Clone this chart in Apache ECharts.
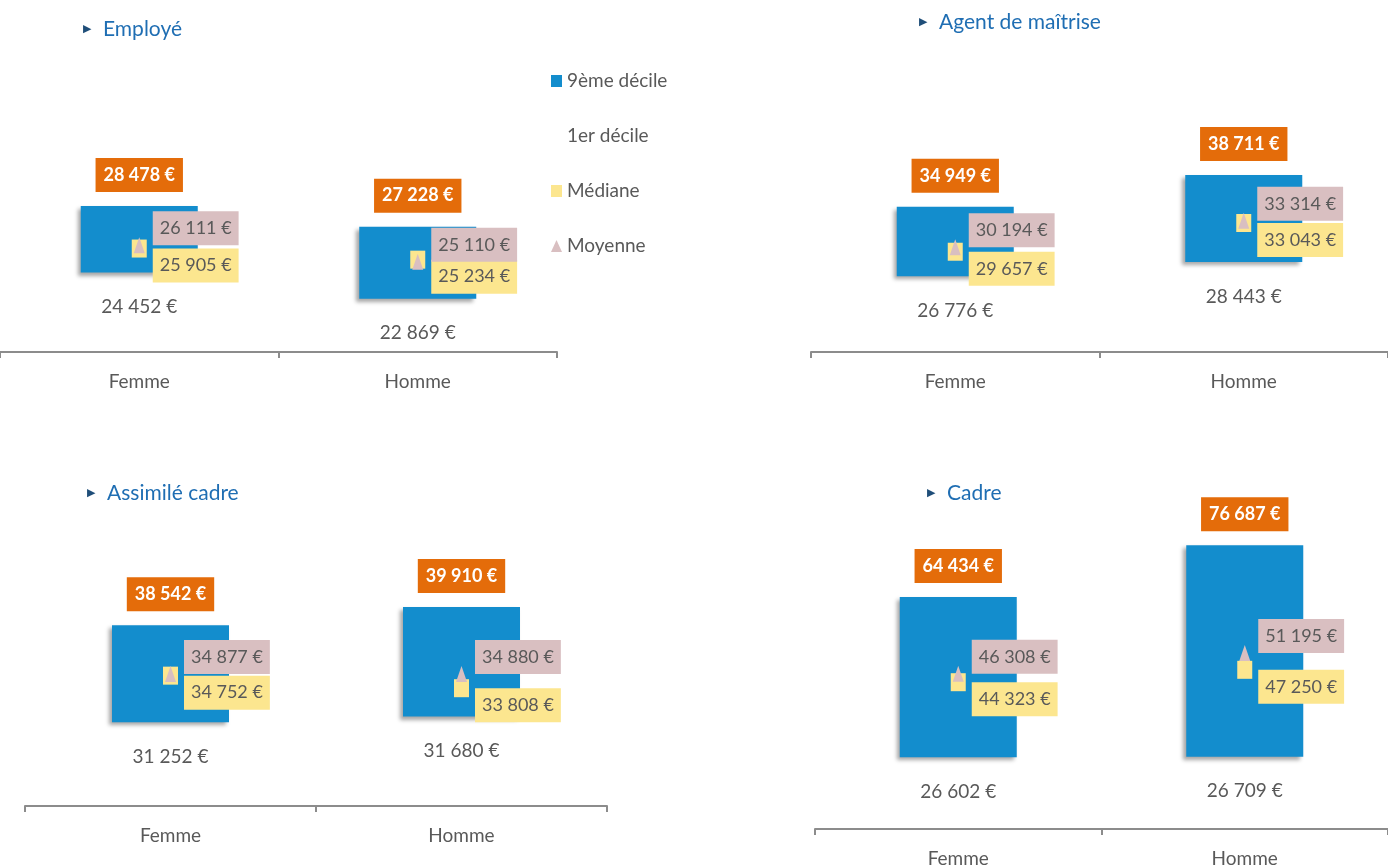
<!DOCTYPE html>
<html>
<head>
<meta charset="utf-8">
<script src="https://cdn.jsdelivr.net/npm/echarts@6/dist/echarts.min.js"></script>
<style>
html,body{margin:0;padding:0;background:#fff;}
#chart{width:1388px;height:868px;}
</style>
</head>
<body>
<div id="chart"></div>
<script>
// ---- data ----
const categories = ['Femme', 'Homme'];
const panelTitles = ['Employé', 'Agent de maîtrise', 'Assimilé cadre', 'Cadre'];
const decile9 = [[28478, 27228], [34949, 38711], [38542, 39910], [64434, 76687]];
const decile1 = [[24452, 22869], [26776, 28443], [31252, 31680], [26602, 26709]];
const mediane = [[25905, 25234], [29657, 33043], [34752, 33808], [44323, 47250]];
const moyenne = [[26111, 25110], [30194, 33314], [34877, 34880], [46308, 51195]];
const legendNames = ['9ème décile', '1er décile', 'Médiane', 'Moyenne'];

// ---- layout / style ----
const FONT = 'Lato, "Open Sans", sans-serif';
const GREY = '#595959';
const BLUE = '#138DCD';
const ORANGE = '#E46C0A';
const PINK = '#D9BFC1';
const YELLOW = '#FCE68F';
const grids = [
  {left: -23, top: 100, width: 580, height: 252},
  {left: 811, top: 100, width: 584, height: 252},
  {left: 25, top: 540, width: 582, height: 266},
  {left: 815, top: 540, width: 584, height: 290}
];
const yRanges = [[19654, 34881], [17830, 47554], [24954, 44948], [9639, 77923]];
const titlePos = [[78, 14], [914, 7], [82, 478], [922, 478]];

function fmt(v) {
  return String(v).replace(/\B(?=(\d{3})+(?!\d))/g, ' ') + ' €';
}

const xAxes = [], yAxes = [], series = [], titles = [];
panelTitles.forEach((t, p) => {
  titles.push({
    text: '{b|▶}  {t|' + t + '}',
    left: titlePos[p][0], top: titlePos[p][1],
    textStyle: {
      fontWeight: 'normal',
      rich: {
        b: {fontSize: 11, color: '#1F4E79', fontFamily: FONT, padding: [0, 2, 3, 0]},
        t: {fontSize: 21, color: '#1F6EB3', fontFamily: FONT, fontWeight: 'normal'}
      }
    }
  });
  xAxes.push({
    type: 'category', gridIndex: p, data: categories,
    axisLine: {lineStyle: {color: '#8C8C8C', width: 2}},
    axisTick: {show: true, length: 6, lineStyle: {color: '#8C8C8C', width: 2}},
    axisLabel: {margin: 20, fontSize: 19, color: GREY, fontFamily: FONT},
    splitLine: {show: false}
  });
  yAxes.push({
    type: 'value', gridIndex: p, min: yRanges[p][0], max: yRanges[p][1], show: false
  });
  series.push({
    name: '1er décile', type: 'bar', xAxisIndex: p, yAxisIndex: p, stack: 's' + p,
    barWidth: 117, silent: true,
    data: decile1[p],
    itemStyle: {color: 'rgba(0,0,0,0)'},
    label: {
      show: true, position: 'insideTop', distance: 25,
      formatter: (d) => fmt(decile1[p][d.dataIndex]),
      fontSize: 19, color: GREY, fontFamily: FONT
    }
  });
  series.push({
    name: '9ème décile', type: 'bar', xAxisIndex: p, yAxisIndex: p, stack: 's' + p,
    barWidth: 117, silent: true,
    data: decile9[p].map((v, i) => v - decile1[p][i]),
    itemStyle: {
      color: BLUE, shadowBlur: 4, shadowColor: 'rgba(0,0,0,0.35)',
      shadowOffsetX: -3, shadowOffsetY: 3
    },
    label: {
      show: true, position: 'top', distance: 14,
      formatter: (d) => fmt(decile9[p][d.dataIndex]),
      fontSize: 18, fontWeight: 'bold', color: '#fff', fontFamily: FONT,
      backgroundColor: ORANGE, padding: [7, 8], lineHeight: 20
    }
  });
  series.push({
    name: 'Médiane', type: 'scatter', xAxisIndex: p, yAxisIndex: p, silent: true,
    symbol: 'rect', symbolSize: [15, 18],
    data: mediane[p],
    itemStyle: {color: YELLOW, opacity: 1},
    label: {
      show: true, position: 'right', distance: 6, offset: [0, 17],
      formatter: (d) => fmt(mediane[p][d.dataIndex]),
      fontSize: 18, color: GREY, fontFamily: FONT,
      backgroundColor: YELLOW, padding: [7, 7], lineHeight: 20
    }
  });
  series.push({
    name: 'Moyenne', type: 'scatter', xAxisIndex: p, yAxisIndex: p, silent: true,
    symbol: 'triangle', symbolSize: [11, 16],
    data: moyenne[p],
    itemStyle: {color: PINK, opacity: 1},
    label: {
      show: true, position: 'right', distance: 8, offset: [0, -17],
      formatter: (d) => fmt(moyenne[p][d.dataIndex]),
      fontSize: 18, color: GREY, fontFamily: FONT,
      backgroundColor: PINK, padding: [7, 7], lineHeight: 20
    }
  });
});

const chart = echarts.init(document.getElementById('chart'));
chart.setOption({
  animation: false,
  backgroundColor: '#fff',
  title: titles,
  legend: {
    orient: 'vertical', left: 546, top: 66, itemGap: 35,
    itemWidth: 11, itemHeight: 12, itemStyle: {opacity: 1}, selectedMode: false,
    textStyle: {fontSize: 19, color: GREY, fontFamily: FONT, lineHeight: 20},
    data: [
      {name: legendNames[0], icon: 'rect'},
      {name: legendNames[1], icon: 'rect'},
      {name: legendNames[2], icon: 'rect'},
      {name: legendNames[3], icon: 'triangle'}
    ]
  },
  grid: grids,
  xAxis: xAxes,
  yAxis: yAxes,
  series: series
});
</script>
</body>
</html>
